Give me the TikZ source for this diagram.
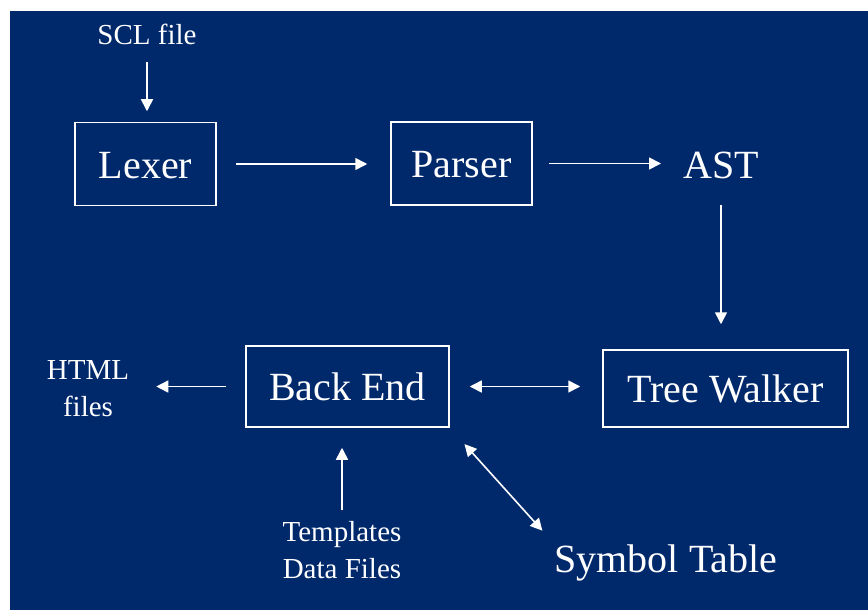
\documentclass[tikz,border=0pt]{standalone}
\usepackage{fontspec}
\setmainfont{Liberation Serif}
\usetikzlibrary{arrows.meta}
\definecolor{bg}{RGB}{0,41,108}
\tikzset{
  box/.style={draw=white, line width=1.5pt, text=white, inner sep=0pt,
    font=\fontsize{40}{44}\selectfont, text height=28pt, text depth=0pt},
  big/.style={text=white, inner sep=0pt, font=\fontsize{40}{44}\selectfont},
  small/.style={text=white, inner sep=0pt, align=center, font=\fontsize{29}{37}\selectfont},
  tip/.tip={Triangle[length=12pt,width=12pt]},
  arr/.style={draw=white, line width=1.6pt, -tip},
  darr/.style={draw=white, line width=1.6pt, tip-tip}
}
\begin{document}
\begin{tikzpicture}[x=1pt,y=-1pt]
\useasboundingbox (0,0) rectangle (868,610);
\fill[white] (0,0) rectangle (868,610);
\fill[bg] (10,11) rectangle (868,610);

\node[box, minimum width=141pt, minimum height=83pt] (lexer) at (145.5,164) {Lexer};
\node[box, minimum width=141pt, minimum height=83pt] (parser) at (461.5,163.5) {Parser};
\node[box, minimum width=245pt, minimum height=77pt] (tree) at (725.5,388.5) {Tree Walker};
\node[box, minimum width=203pt, minimum height=81pt] (back) at (347.5,386.5) {Back End};

\node[big, anchor=base] (ast) at (721,178) {AST};
\node[big, anchor=base] (sym) at (666,572) {Symbol Table};
\node[small, anchor=base] (scl) at (147,45) {SCL file};
\node[small, anchor=north] (html) at (88,360) {HTML\\files};
\node[small, anchor=north] (templ) at (342,521) {Templates\\Data Files};

\draw[arr, shorten <=17pt, shorten >=10.5pt] (scl.south) -- (scl.south |- lexer.north);
\draw[arr, shorten <=19pt, shorten >=23pt] (lexer.east) -- (lexer.east -| parser.west);
\draw[arr, shorten <=16pt, shorten >=22pt] (parser.east) -- (parser.east -| ast.west);
\draw[arr, shorten <=26pt, shorten >=25pt] (ast.south) -- (ast.south |- tree.north);
\draw[darr, shorten <=20pt, shorten >=22pt] (back.east) -- (back.east -| tree.west);
\draw[arr, shorten <=19pt, shorten >=27pt] (back.west) -- (back.west -| html.east);
\draw[arr, shorten <=11pt, shorten >=20pt] (templ.north) -- (templ.north |- back.south);
\draw[darr, shorten <=22pt, shorten >=18pt] (back.south east) -- (sym.north west);
\end{tikzpicture}
\end{document}
